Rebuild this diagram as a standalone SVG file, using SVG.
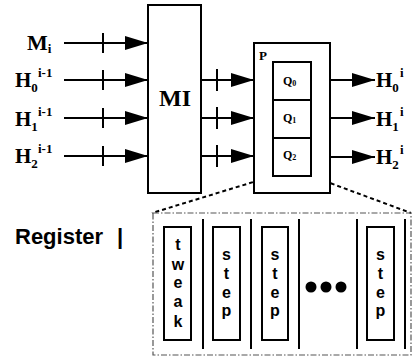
<svg xmlns="http://www.w3.org/2000/svg" width="412" height="358" viewBox="0 0 412 358">
<style>
.box{fill:#fff;stroke:#000;stroke-width:2}
.ln{stroke:#000;stroke-width:2;fill:none}
.dot{stroke:#000;stroke-width:2;fill:none;stroke-dasharray:4 3}
.dd{stroke:#555;stroke-width:1.2;fill:none;stroke-dasharray:6 2 1.5 2}
.lab{font-family:"Liberation Serif","Times New Roman",serif;font-weight:bold;fill:#000}
.sans{font-family:"Liberation Sans",Arial,sans-serif;font-weight:bold;fill:#000}
</style>
<defs>
<marker id="ah" markerUnits="userSpaceOnUse" markerWidth="24" markerHeight="14" refX="23" refY="7" orient="auto">
<path d="M0,0 L23,7 L0,14 Z" fill="#000"/>
</marker>
</defs>
<g id="connectors">
<line class="ln" x1="64" y1="43" x2="148" y2="43" marker-end="url(#ah)"/>
<line class="ln" x1="64" y1="80" x2="148" y2="80" marker-end="url(#ah)"/>
<line class="ln" x1="64" y1="118" x2="148" y2="118" marker-end="url(#ah)"/>
<line class="ln" x1="64" y1="156" x2="148" y2="156" marker-end="url(#ah)"/>
<line class="ln" x1="103" y1="33" x2="103" y2="53"/>
<line class="ln" x1="103" y1="70" x2="103" y2="90"/>
<line class="ln" x1="103" y1="108" x2="103" y2="128"/>
<line class="ln" x1="103" y1="146" x2="103" y2="166"/>
<line class="ln" x1="201" y1="80" x2="254" y2="80" marker-end="url(#ah)"/>
<line class="ln" x1="201" y1="118" x2="254" y2="118" marker-end="url(#ah)"/>
<line class="ln" x1="201" y1="156" x2="254" y2="156" marker-end="url(#ah)"/>
<line class="ln" x1="217" y1="69" x2="217" y2="91"/>
<line class="ln" x1="217" y1="107" x2="217" y2="129"/>
<line class="ln" x1="217" y1="145" x2="217" y2="167"/>
<line class="ln" x1="311" y1="80" x2="375" y2="80" marker-end="url(#ah)"/>
<line class="ln" x1="311" y1="118" x2="375" y2="118" marker-end="url(#ah)"/>
<line class="ln" x1="311" y1="157" x2="375" y2="157" marker-end="url(#ah)"/>
<line class="dot" x1="273" y1="176" x2="152" y2="213"/>
<line class="dot" x1="311" y1="176" x2="411" y2="213"/>
</g>
<g id="inputs">
<text class="lab" x="27" y="50" font-size="22">M<tspan font-size="13" dy="3">i</tspan></text>
<text class="lab" x="15" y="87" font-size="21">H<tspan font-size="13" dy="5">0</tspan><tspan font-size="13" x="38" y="77">i-1</tspan></text>
<text class="lab" x="15" y="126" font-size="21">H<tspan font-size="13" dy="5">1</tspan><tspan font-size="13" x="38" y="116">i-1</tspan></text>
<text class="lab" x="15" y="163" font-size="21">H<tspan font-size="13" dy="5">2</tspan><tspan font-size="13" x="38" y="153">i-1</tspan></text>
</g>
<g id="MI">
<rect class="box" x="148" y="5" width="53" height="188"/>
<text class="lab" x="175" y="106" font-size="24" text-anchor="middle">MI</text>
</g>
<g id="P">
<rect class="box" x="254" y="43" width="76" height="150"/>
<text class="lab" x="259" y="60" font-size="13">P</text>
</g>
<g id="Q0">
<rect class="box" x="273" y="62" width="38" height="38"/>
<text class="lab" x="283" y="85" font-size="12">Q<tspan font-size="8" dy="1">0</tspan></text>
</g>
<g id="Q1">
<rect class="box" x="273" y="100" width="38" height="38"/>
<text class="lab" x="283" y="122" font-size="12">Q<tspan font-size="8" dy="1">1</tspan></text>
</g>
<g id="Q2">
<rect class="box" x="273" y="138" width="38" height="38"/>
<text class="lab" x="283" y="159" font-size="12">Q<tspan font-size="8" dy="1">2</tspan></text>
</g>
<g id="outputs">
<text class="lab" x="376" y="87" font-size="21">H<tspan font-size="13" dy="5">0</tspan><tspan font-size="13" x="400" y="77">i</tspan></text>
<text class="lab" x="376" y="126" font-size="21">H<tspan font-size="13" dy="5">1</tspan><tspan font-size="13" x="400" y="116">i</tspan></text>
<text class="lab" x="376" y="164" font-size="21">H<tspan font-size="13" dy="5">2</tspan><tspan font-size="13" x="400" y="154">i</tspan></text>
</g>
<g id="register-label">
<text class="sans" x="15" y="244" font-size="22">Register<tspan x="117">|</tspan></text>
</g>
<g id="register">
<rect class="dd" x="153" y="213" width="258" height="142"/>
<line class="ln" x1="203" y1="219" x2="203" y2="349"/>
<line class="ln" x1="251" y1="219" x2="251" y2="349"/>
<line class="ln" x1="299" y1="219" x2="299" y2="349"/>
<line class="ln" x1="357" y1="219" x2="357" y2="349"/>
<line class="ln" x1="405" y1="219" x2="405" y2="349"/>
</g>
<g id="tweak">
<rect class="box" x="164" y="227" width="27" height="113"/>
<text class="sans" font-size="16" text-anchor="middle"><tspan x="178" y="250">t</tspan><tspan x="178" y="270">w</tspan><tspan x="178" y="288">e</tspan><tspan x="178" y="307">a</tspan><tspan x="178" y="327">k</tspan></text>
</g>
<g id="step1">
<rect class="box" x="213" y="227" width="27" height="113"/>
<text class="sans" font-size="16" text-anchor="middle"><tspan x="226.5" y="260">s</tspan><tspan x="226.5" y="279">t</tspan><tspan x="226.5" y="298">e</tspan><tspan x="226.5" y="316">p</tspan></text>
</g>
<g id="step2">
<rect class="box" x="262" y="227" width="26" height="113"/>
<text class="sans" font-size="16" text-anchor="middle"><tspan x="275" y="260">s</tspan><tspan x="275" y="279">t</tspan><tspan x="275" y="298">e</tspan><tspan x="275" y="316">p</tspan></text>
</g>
<g id="ellipsis">
<circle cx="311" cy="287" r="5.5" fill="#000"/>
<circle cx="326" cy="287" r="5.5" fill="#000"/>
<circle cx="341" cy="287" r="5.5" fill="#000"/>
</g>
<g id="step3">
<rect class="box" x="367" y="227" width="27" height="113"/>
<text class="sans" font-size="16" text-anchor="middle"><tspan x="380.5" y="260">s</tspan><tspan x="380.5" y="279">t</tspan><tspan x="380.5" y="298">e</tspan><tspan x="380.5" y="316">p</tspan></text>
</g>
</svg>
